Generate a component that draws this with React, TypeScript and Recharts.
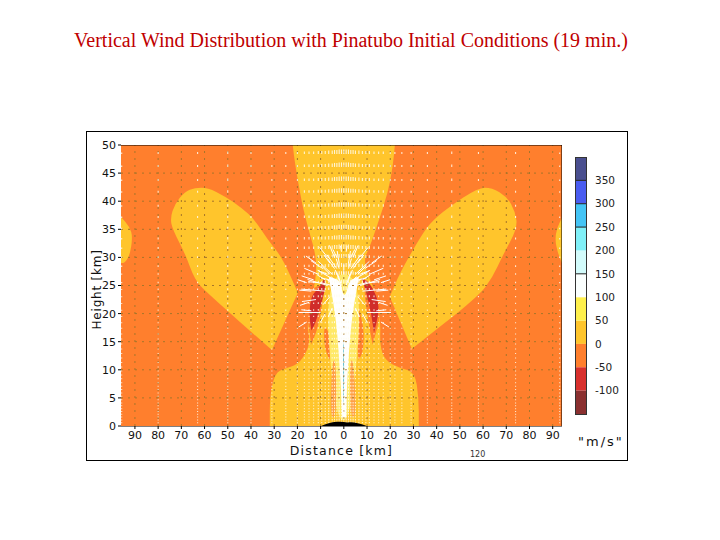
import { ReactNode } from "react";
import {
  Bar,
  BarChart,
  ReferenceLine,
  Scatter,
  ScatterChart,
  XAxis,
  YAxis,
} from "recharts";

type Pt = { x: number; y: number };

const toPts = (list: number[][]): Pt[] => list.map(([x, y]) => ({ x, y }));

// contour regions, [distance km, height km]. A repeated point keeps a sharp corner.
const backdrop = [[-96, 0], [-96, 0], [94, 0], [94, 0], [94, 50], [94, 50], [-96, 50], [-96, 50]];
const leftLens = [[-96, 37.2], [-96, 37.2], [-92.2, 35.4], [-91, 33.6], [-92.2, 30.4], [-94.4, 29], [-96, 29], [-96, 29]];
const rightLens = [[94, 37], [94, 37], [91.8, 35.2], [91, 33.1], [92.2, 30.8], [94, 29], [94, 29]];
const leftLobe = [
  [-64.2, 42.4], [-58.6, 42.4], [-51.3, 40.9], [-44, 38.8], [-38.4, 36.7], [-32.8, 33.1],
  [-26.7, 30.1], [-19.8, 23.7], [-19.8, 23.7], [-31, 13.5], [-31, 13.5], [-59, 23.7], [-64.2, 26],
  [-68.5, 30.8], [-73.7, 34.9], [-74.8, 37], [-72.8, 39.5], [-68.5, 41.7],
];
const rightLobe = [
  [57.8, 42.4], [63.8, 42.4], [70.3, 40.8], [73.9, 38.1], [74.8, 35.2], [68.5, 30.4],
  [64.2, 26.5], [57.8, 23], [29.3, 13.7], [29.3, 13.7], [19.8, 23], [19.8, 23], [24.1, 27.2],
  [31.5, 32.6], [37, 36.1], [44.8, 38.8],
];
const centralGold = [
  [-22, 50], [-22, 50], [22, 50], [22, 50], [21.1, 46.1], [19, 41.5], [14.7, 36.1], [11.2, 31.9],
  [8.2, 29.2], [13.4, 24.2], [15.9, 18.9], [15.5, 14.4], [17.7, 11.7], [24.1, 10.3], [30.6, 9.6],
  [32.3, 5], [32.3, 0], [32.3, 0], [-31.9, 0], [-31.9, 0], [-31.9, 5.2], [-29.7, 9.4], [-25.4, 10.3],
  [-19.8, 10.9], [-15.5, 13.5], [-14.7, 15.8], [-15.9, 18], [-13.4, 23], [-11.2, 29.2], [-15.5, 35.4],
  [-18.1, 39.7], [-21.1, 46.8],
];
const leftHalo = [[-10, 25.5], [-15.4, 23.6], [-16, 19.8], [-14, 14.5], [-14, 14.5], [-11.2, 17.4], [-8.6, 23]];
const rightHalo = [[8.6, 27], [15, 23], [16, 19.8], [12.4, 14.5], [12.4, 14.5], [10.4, 18.9], [9, 23]];
const leftTear = [[-8.6, 18], [-6, 16.4], [-5.2, 13], [-6.2, 11.8], [-6.2, 11.8], [-8.4, 14]];
const rightTear = [[6.4, 21.2], [6.4, 21.2], [8.8, 17], [8.2, 13], [6.4, 11.8], [6.4, 11.8], [5.2, 16]];
const leftSpeck = [[-5, 11.7], [-3.4, 11.7], [-3.2, 1.6], [-6, 1.6]];
const rightSpeck = [[2.6, 11.7], [4.2, 11.7], [5.4, 1.6], [2.8, 1.6]];
const haze = [[-8.6, 27], [8.6, 27], [3.4, 1], [-3.9, 1]];
const leftRed = [[-8.4, 26.2], [-8.4, 26.2], [-11, 24.4], [-14, 23.2], [-15, 20], [-14, 17], [-14, 17], [-12, 18.5], [-10, 21.5], [-7.8, 24.6]];
const rightRed = [[7.8, 26.4], [7.8, 26.4], [11.6, 25.2], [14.8, 22.4], [15, 20], [13, 16.6], [13, 16.6], [11.8, 20], [10, 23.2]];
const plume = [
  [-6.5, 26.5], [-6.5, 26.5], [-1.5, 26], [-0.4, 23.3], [0.9, 23.3], [2.4, 26], [6.5, 26.5], [6.5, 26.5],
  [3.2, 18.9], [1.4, 8.2], [1, 1.5], [1, 1.5], [-0.7, 1.5], [-0.7, 1.5], [-1.4, 8.2], [-3.2, 18.9],
];
const core = [[-0.3, 15], [0.1, 15], [0.1, 4], [-0.3, 4]];
const vent = [[-10, 0], [-10, 0], [-8, 0.3], [-5, 0.7], [-1, 0.8], [1, 0.6], [4, 0.7], [8, 0.3], [10, 0], [10, 0]];

// wind vector field sampled on the model's stretched grid
const fieldX = [
  -95.7, -80, -63, -50, -40, -31, -25, -20, -17, -15, -13, -11, -9.5, -8, -6.5, -5, -4, -3, -2, -1,
  0, 1, 2, 3, 4, 5, 6.5, 8, 9.5, 11, 13, 15, 17, 20, 22, 25, 29, 36, 46.5, 58, 74, 93,
];
const fieldLift = [
  1.5, 2, 2, 2.5, 2, 2, 2, 2, 2.5, 2.5, 2.5, 3, 3, 3, 3.5, 3.5, 4, 4, 4.5, 4.5,
  4.5, 4.5, 4.5, 4, 4, 3.5, 3.5, 3, 3, 3, 2.5, 2.5, 2.5, 2, 2, 2, 2, 2, 2.5, 2, 2, 1.5,
];
const fieldY = [
  48.4, 46.1, 43.6, 41.5, 39, 37, 35, 33.2, 31.5, 29.9, 28.3, 26.9, 25.4, 24.2, 22.9, 21.7,
  20.5, 19.4, 18.3, 17.3, 16.3, 15.4, 14.5, 13.6, 12.8, 12, 11.2, 10.4, 9.7, 9, 8.3, 7.6,
  7, 6.4, 5.8, 5.2, 4.6, 4, 3.5, 3, 2.5, 2, 1.5, 1, 0.5,
];
// arrows shrink towards the ground, one factor per row of fieldY
const fieldGain = [
  1, 1, 1, 1, 1, 1, 1, 1, 1, 0.9, 0.9, 0.8, 0.8, 0.7, 0.7, 0.6,
  0.6, 0.5, 0.5, 0.5, 0.5, 0.4, 0.4, 0.4, 0.4, 0.4, 0.4, 0.4, 0.4, 0.4, 0.4, 0.4,
  0.4, 0.4, 0.4, 0.4, 0.4, 0.4, 0.4, 0.4, 0.4, 0.4, 0.4, 0.4, 0.4,
];

// strong outflow around the jet head: [x km, y km, u, w]
const rays = [
  [-4, 26, -16, 9], [-5, 27, -14, 13], [-3, 28, -10, 14], [-7, 25, -20, 6], [-8, 24, -24, 2],
  [-9, 28, -12, 8], [-11, 27, -14, 6], [-13, 26, -12, 4], [-12, 29, -10, 7], [-7, 30, -8, 10],
  [-4, 30, -5, 12], [-2, 29, -2, 12], [-14, 24, -12, 1], [-16, 25.5, -9, 3], [-10, 20.2, -22, 0],
  [-14, 20.5, -10, 1], [-12, 22.5, -14, -2], [-15, 22, -9, -3], [-16, 18.5, -8, -5], [-11, 25.5, -10, 1],
  [4, 26, 16, 9], [5, 27, 14, 13], [3, 28, 10, 14], [7, 25, 20, 6], [8, 24, 24, 2],
  [9, 28, 12, 8], [11, 27, 14, 6], [13, 26, 12, 4], [12, 29, 10, 7], [7, 30, 8, 10],
  [4, 30, 5, 12], [2, 29, 2, 12], [14, 24, 12, 1], [16, 25.5, 9, 3], [10, 20.2, 24, 0],
  [14, 20.5, 10, 1], [12, 22.5, 14, -2], [15, 22, 9, -3], [16, 18.5, 8, -5], [11, 25.5, 10, 1],
  [-2, 26, -4, 10], [0, 27, 0, 10], [2, 26, 4, 10], [-1, 31, -1, 6], [1, 31, 1, 6],
  [-6, 23, -7, -8], [6, 23, 7, -8], [-5, 21, -4, -9], [5, 21, 4, -9], [-8, 20, -5, -9], [8, 20, 5, -9],
  [-3, 25, -10, 6], [-2, 25, -8, 9], [-1, 25, -4, 12], [1, 25, 4, 12], [2, 25, 8, 9], [3, 25, 10, 6],
  [-5, 25, -12, 3], [-6, 27, -8, 8], [-4, 28, -7, 10], [-2, 28, -3, 10], [2, 28, 3, 10], [4, 28, 7, 10],
  [6, 27, 8, 8], [5, 25, 12, 3], [-7, 27, -10, 4], [7, 27, 10, 4], [-6, 26, -9, 2], [6, 26, 9, 2],
  [-8, 26, -8, 5], [8, 26, 8, 5], [-3, 30, -4, 8], [3, 30, 4, 8], [-6, 29, -6, 8], [6, 29, 6, 8],
];

const xTicks = [-90, -80, -70, -60, -50, -40, -30, -20, -10, 0, 10, 20, 30, 40, 50, 60, 70, 80, 90];
const yTicks = [0, 5, 10, 15, 20, 25, 30, 35, 40, 45, 50];

const barValues = [-100, -50, 0, 50, 100, 150, 200, 250, 300, 350];
const barSeams = [150, 250, 300, 350];
const barBands = [
  { key: "a", value: 50, color: "#ffc52c" },
  { key: "b", value: 50, color: "#fff04c" },
  { key: "c", value: 50, color: "#fbfffe" },
  { key: "d", value: 50, color: "#d2fbfb" },
  { key: "e", value: 50, color: "#80f0f8" },
  { key: "f", value: 50, color: "#44c4f5" },
  { key: "g", value: 50, color: "#4a5cf0" },
  { key: "h", value: 50, color: "#4a4f8f" },
  { key: "i", value: -50, color: "#ff7f2d" },
  { key: "j", value: -50, color: "#d8302d" },
  { key: "k", value: -50, color: "#8a3030" },
];

const ORANGE = "#ff7f2d";
const GOLD = "#ffc52c";
const SANS = '"DejaVu Sans", sans-serif';
const GRID = "#a5752a";

const regions: { pts: number[][]; fill: string }[] = [
  { pts: backdrop, fill: ORANGE },
  { pts: leftLens, fill: GOLD },
  { pts: rightLens, fill: GOLD },
  { pts: leftLobe, fill: GOLD },
  { pts: rightLobe, fill: GOLD },
  { pts: centralGold, fill: GOLD },
  { pts: leftHalo, fill: ORANGE },
  { pts: rightHalo, fill: ORANGE },
  { pts: leftTear, fill: ORANGE },
  { pts: rightTear, fill: ORANGE },
  { pts: haze, fill: "#ffe968" },
  { pts: leftSpeck, fill: "#ff9f45" },
  { pts: rightSpeck, fill: "#ff9f45" },
  { pts: leftRed, fill: "#d02c2a" },
  { pts: rightRed, fill: "#d02c2a" },
  { pts: plume, fill: "#ffffff" },
  { pts: core, fill: "#58b8c8" },
];

const fieldData = fieldX.flatMap((x, i) =>
  fieldY.map((y, j) => ({ x, y, w: fieldLift[i] * fieldGain[j] }))
);
const rayData = rays.map(([x, y, u, w]) => ({ x, y, u, w }));

// closed outline through the midpoints, so the contours come out rounded
const polygon = (fill: string) => (props: { points?: Pt[] }): ReactNode => {
  const p = props.points ?? [];
  const mid = (a: Pt, b: Pt) => `${(a.x + b.x) / 2} ${(a.y + b.y) / 2}`;
  let d = `M${mid(p[p.length - 1], p[0])}`;
  p.forEach((q, i) => {
    d += ` Q${q.x} ${q.y} ${mid(q, p[(i + 1) % p.length])}`;
  });
  return <path d={`${d} Z`} fill={fill} stroke="none" />;
};

const rule = (stroke: string, dash?: string) => (props: { points?: Pt[] }): ReactNode => {
  const [a, b] = props.points ?? [];
  return <line x1={a.x} y1={a.y} x2={b.x} y2={b.y} stroke={stroke} strokeDasharray={dash} />;
};

const noMark = () => <g />;

const Tick = ({ cx, cy, payload }: any) => (
  <line x1={cx} y1={cy} x2={cx} y2={cy - Math.max(payload.w, 1)} stroke="#fffdf0" strokeWidth={1.1} opacity={0.85} />
);

const Ray = ({ cx, cy, payload }: any) => (
  <line x1={cx} y1={cy} x2={cx + payload.u} y2={cy - payload.w} stroke="#ffffff" strokeWidth={1} />
);

const tickStyle = { fontSize: 11, fill: "#111", fontFamily: SANS };

export default function App() {
  return (
    <div style={{ position: "absolute", left: 0, top: 0, width: 720, height: 540, background: "#fff" }}>
      <div
        style={{
          position: "absolute",
          left: 0,
          width: 702,
          top: 29,
          textAlign: "center",
          color: "#c00000",
          fontFamily: '"Liberation Serif", serif',
          fontSize: 20,
          lineHeight: "23px",
          whiteSpace: "nowrap",
        }}
      >
        Vertical Wind Distribution with Pinatubo Initial Conditions (19 min.)
      </div>
      <div
        style={{
          position: "absolute",
          left: 86,
          top: 131,
          width: 540,
          height: 328,
          border: "1px solid #000",
        }}
      />
      <div style={{ position: "absolute", left: 0, top: 0 }}>
        <ScatterChart
          width={720}
          height={540}
          margin={{ top: 145, right: 158, bottom: 84, left: 81 }}
        >
          <XAxis
            type="number"
            dataKey="x"
            domain={[-96, 94]}
            allowDataOverflow
            ticks={xTicks}
            tickFormatter={(v: number) => String(Math.abs(v))}
            interval={0}
            height={30}
            stroke="#000"
            tickSize={3}
            tick={tickStyle}
            label={{
              value: "Distance [km]",
              position: "insideBottom",
              offset: 1,
              style: { fontSize: 12.5, letterSpacing: 1.2, fill: "#111", fontFamily: SANS },
            }}
          />
          <YAxis
            type="number"
            dataKey="y"
            domain={[0, 50]}
            allowDataOverflow
            ticks={yTicks}
            interval={0}
            width={40}
            axisLine={false}
            stroke="#000"
            tickSize={3}
            tick={tickStyle}
            label={{
              value: "Height [km]",
              angle: -90,
              position: "insideLeft",
              offset: 16,
              dy: 44,
              style: { fontSize: 12, letterSpacing: 0.8, fill: "#111", fontFamily: SANS },
            }}
          />
          {regions.map((r, i) => (
            <Scatter
              key={i}
              data={toPts(r.pts)}
              line={polygon(r.fill) as any}
              lineJointType="linear"
              shape={noMark}
              isAnimationActive={false}
            />
          ))}
          {xTicks.map((v) => (
            <Scatter
              key={v}
              data={toPts([[v, 0], [v, 50]])}
              line={rule(GRID, "2 5") as any}
              shape={noMark}
              isAnimationActive={false}
            />
          ))}
          {yTicks.slice(1, -1).map((v) => (
            <Scatter
              key={v}
              data={toPts([[-96, v], [94, v]])}
              line={rule(GRID, "2 5") as any}
              shape={noMark}
              isAnimationActive={false}
            />
          ))}
          <Scatter data={fieldData} shape={Tick} isAnimationActive={false} />
          <Scatter data={rayData} shape={Ray} isAnimationActive={false} />
          <Scatter
            data={toPts([[-96, 50], [94, 50]])}
            line={rule("#000") as any}
            shape={noMark}
            isAnimationActive={false}
          />
          <Scatter
            data={toPts([[94, 0], [94, 50]])}
            line={rule("#000") as any}
            shape={noMark}
            isAnimationActive={false}
          />
          <Scatter
            data={toPts(vent)}
            line={polygon("#000") as any}
            lineJointType="linear"
            shape={noMark}
            isAnimationActive={false}
          />
        </ScatterChart>
      </div>
      <div style={{ position: "absolute", left: 575, top: 157 }}>
        <BarChart
          width={51}
          height={257}
          data={[Object.fromEntries(barBands.map((b) => [b.key, b.value]))]}
          margin={{ top: 0, right: 0, bottom: 0, left: 0 }}
          stackOffset="sign"
          barCategoryGap={0}
        >
          <XAxis hide />
          <YAxis
            type="number"
            orientation="right"
            domain={[-150, 400]}
            ticks={barValues}
            interval={0}
            width={40}
            axisLine={false}
            tickLine={false}
            tickMargin={3}
            tick={{ fontSize: 10.5, fill: "#222", fontFamily: SANS }}
          />
          {barBands.map((b) => (
            <Bar key={b.key} dataKey={b.key} stackId="scale" fill={b.color} isAnimationActive={false} />
          ))}
          {barSeams.map((v) => (
            <ReferenceLine key={v} y={v} stroke="#222" />
          ))}
        </BarChart>
      </div>
      <div
        style={{
          position: "absolute",
          left: 575,
          top: 157,
          width: 10,
          height: 256,
          border: "1px solid #333",
        }}
      />
      <div
        style={{
          position: "absolute",
          left: 578,
          top: 434,
          fontFamily: SANS,
          fontSize: 13,
          letterSpacing: 2,
          color: "#111",
        }}
      >
        "m/s"
      </div>
      <div
        style={{
          position: "absolute",
          left: 470,
          top: 450,
          fontFamily: SANS,
          fontSize: 8,
          color: "#333",
        }}
      >
        120
      </div>
    </div>
  );
}
